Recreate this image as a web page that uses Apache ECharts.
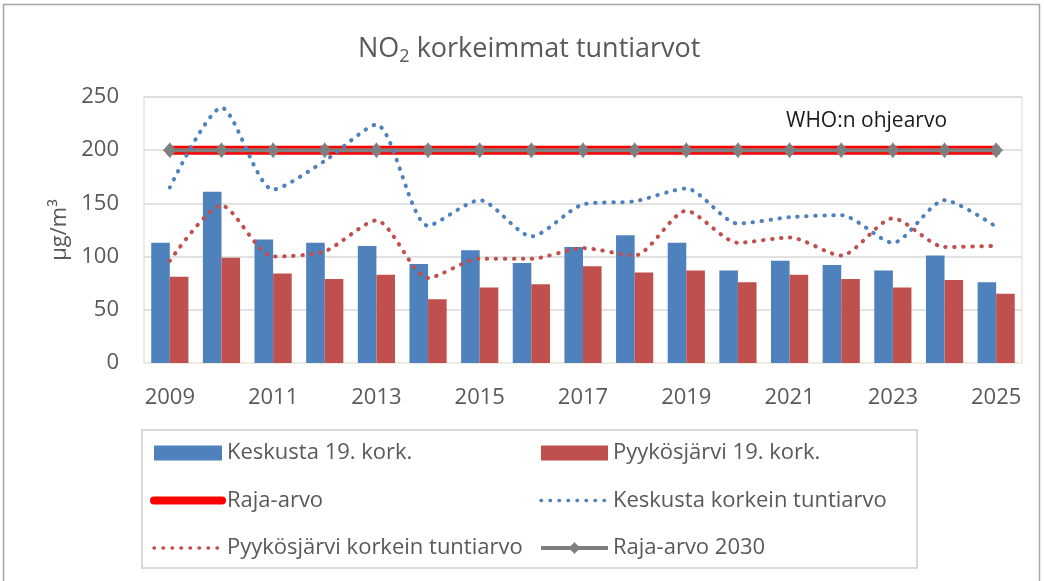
<!DOCTYPE html>
<html>
<head>
<meta charset="utf-8">
<title>NO2 korkeimmat tuntiarvot</title>
<script src="https://cdn.jsdelivr.net/npm/echarts@6/dist/echarts.min.js"></script>
<style>
  html, body { margin: 0; padding: 0; background: #fff; }
  #chart { width: 1044px; height: 581px; }
</style>
</head>
<body>
<div id="chart"></div>
<script>
// vuodet
var years = ['2009','2010','2011','2012','2013','2014','2015','2016','2017',
             '2018','2019','2020','2021','2022','2023','2024','2025'];
// 19. korkein tuntiarvo (pylvaat)
var keskusta19 = [113,161,116,113,110,93,106,94,109,120,113,87,96,92,87,101,76];
var pyykos19   = [81,99,84,79,83,60,71,74,91,85,87,76,83,79,71,78,65];
// korkein tuntiarvo (pisteviivat)
var keskustaMax = [165,240,163,190,224,129,153,119,149,152,164,131,137,139,113,153,128];
var pyykosMax   = [96,148,100,105,134,80,98,98,108,101,143,113,118,101,136,109,110];
// raja-arvot
var rajaArvo     = [200,200,200,200,200,200,200,200,200,200,200,200,200,200,200,200,200];
var rajaArvo2030 = [200,200,200,200,200,200,200,200,200,200,200,200,200,200,200,200,200];
var yTicks = [0, 50, 100, 150, 200, 250];

var FONT = '"Open Sans", "Liberation Sans", sans-serif';
var GREY = '#595959';
var BLUE = '#4F81BD';
var RED = '#C0504D';
// pyorea merkki pienilla piikeilla
var markerPath = 'path://M7,0 L4.6,1.9 L3.5,3.5 L1.9,4.6 L0,7 L-1.9,4.6 L-3.5,3.5 L-4.6,1.9 L-7,0 ' +
                 'L-4.6,-1.9 L-3.5,-3.5 L-1.9,-4.6 L0,-7 L1.9,-4.6 L3.5,-3.5 L4.6,-1.9 Z';

var myChart = echarts.init(document.getElementById('chart'), null, {renderer: 'canvas'});

var legendText = {fontFamily: FONT, fontSize: 22, lineHeight: 22, color: GREY};
var dotLegend = function(name, width) {
    return {name: name, itemStyle: {opacity: 0}, lineStyle: {width: width, cap: 'round'}};
};

var option = {
    backgroundColor: '#fff',
    animation: false,
    textStyle: {fontFamily: FONT},
    title: {
        text: '{a|NO}{s|2}{a| korkeimmat tuntiarvot}',
        left: 358,
        top: 32,
        padding: 0,
        textStyle: {
            fontWeight: 'normal',
            rich: {
                a: {fontFamily: FONT, fontSize: 27, fontWeight: 'normal', lineHeight: 34, color: GREY},
                s: {fontFamily: FONT, fontSize: 18, fontWeight: 'normal', lineHeight: 18, color: GREY, verticalAlign: 'bottom'}
            }
        }
    },
    grid: {
        left: 144, right: 22, top: 97, bottom: 218,
        show: true, borderColor: '#EEECE1', borderWidth: 2
    },
    legend: [{
        orient: 'vertical', left: 150, top: 442, padding: 0,
        itemWidth: 68, itemHeight: 15, itemGap: 25.5,
        textStyle: legendText,
        data: [
            {name: 'Keskusta 19. kork.', icon: 'rect'},
            dotLegend('Raja-arvo', 8),
            dotLegend('Pyykösjärvi korkein tuntiarvo', 3.5)
        ]
    }, {
        orient: 'vertical', left: 539, top: 442, padding: 0,
        itemWidth: 67, itemHeight: 15, itemGap: 25.5,
        textStyle: legendText,
        data: [
            {name: 'Pyykösjärvi 19. kork.', icon: 'rect'},
            dotLegend('Keskusta korkein tuntiarvo', 3.5),
            {name: 'Raja-arvo 2030', lineStyle: {width: 4}}
        ]
    }],
    xAxis: {
        type: 'category',
        data: years,
        boundaryGap: true,
        axisLine: {show: true, lineStyle: {color: '#EEECE1', width: 2}},
        axisTick: {show: false},
        axisLabel: {interval: 1, fontSize: 22, color: GREY, margin: 24, fontFamily: FONT}
    },
    yAxis: {
        type: 'value',
        min: yTicks[0], max: yTicks[yTicks.length - 1], interval: 50,
        name: 'µg/m³',
        nameLocation: 'middle',
        nameRotate: 90,
        nameGap: 70,
        nameTextStyle: {fontSize: 22, color: GREY, fontFamily: FONT},
        axisLine: {show: false},
        axisTick: {show: false},
        axisLabel: {fontSize: 22, color: GREY, margin: 25, fontFamily: FONT},
        splitLine: {lineStyle: {color: '#D9D9D9', width: 1.5}}
    },
    graphic: [{
        type: 'rect', silent: true, z: -1,
        shape: {x: 3.5, y: 4.5, width: 1036, height: 590},
        style: {fill: null, stroke: '#A6A6A6', lineWidth: 1.5}
    }, {
        type: 'rect', silent: true,
        shape: {x: 142, y: 430, width: 775, height: 138},
        style: {fill: null, stroke: '#D9D9D9', lineWidth: 2}
    }, {
        type: 'text', silent: true, z: 10,
        left: 786, top: 111,
        style: {text: 'WHO:n ohjearvo', font: '21px ' + FONT, fill: '#1A1A1A'}
    }],
    series: [{
        name: 'Keskusta 19. kork.',
        type: 'bar',
        data: keskusta19,
        barGap: '0%',
        barCategoryGap: '28%',
        itemStyle: {color: BLUE},
        z: 2
    }, {
        name: 'Pyykösjärvi 19. kork.',
        type: 'bar',
        data: pyykos19,
        barGap: '0%',
        barCategoryGap: '28%',
        itemStyle: {color: RED},
        z: 2
    }, {
        name: 'Raja-arvo',
        type: 'line',
        data: rajaArvo,
        symbol: 'none',
        lineStyle: {color: '#FF0000', width: 9, cap: 'round'},
        itemStyle: {color: '#FF0000'},
        z: 3
    }, {
        name: 'Keskusta korkein tuntiarvo',
        type: 'line',
        data: keskustaMax,
        smooth: 0.25,
        symbol: 'none',
        lineStyle: {color: BLUE, width: 4, type: [0.5, 8.5], cap: 'round'},
        itemStyle: {color: BLUE},
        z: 5
    }, {
        name: 'Pyykösjärvi korkein tuntiarvo',
        type: 'line',
        data: pyykosMax,
        smooth: 0.25,
        symbol: 'none',
        lineStyle: {color: RED, width: 4, type: [0.5, 8.5], cap: 'round'},
        itemStyle: {color: RED},
        z: 5
    }, {
        name: 'Raja-arvo 2030',
        type: 'line',
        data: rajaArvo2030,
        symbol: markerPath,
        symbolSize: [14, 16],
        lineStyle: {color: '#7F7F7F', width: 4},
        itemStyle: {color: '#7F7F7F'},
        z: 4
    }]
};

myChart.setOption(option);
</script>
</body>
</html>
